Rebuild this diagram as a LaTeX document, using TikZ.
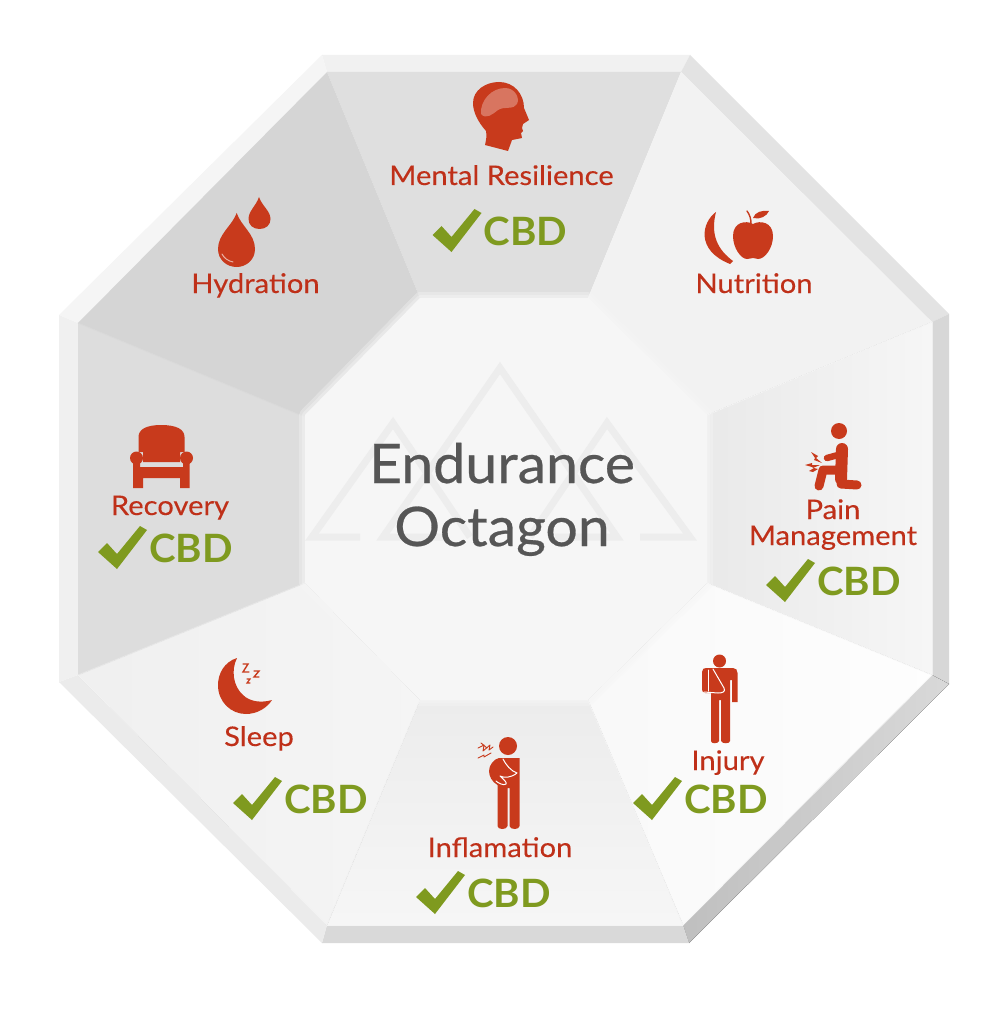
\documentclass[tikz,border=0pt]{standalone}
\usepackage{fontspec}
\setmainfont{Lato}
\newfontfamily\cbdfont[FakeStretch=1.03]{Lato Bold}
\newfontfamily\lblfont[FakeStretch=1.08,FakeBold=0.25]{Lato}
\newfontfamily\ttlfont[FakeStretch=1.05,FakeBold=0.5]{Lato}
\definecolor{iconred}{HTML}{C83A1C}
\definecolor{labelred}{HTML}{BF3019}
\definecolor{chkgreen}{HTML}{7F9A1F}
\definecolor{titlegrey}{HTML}{565656}
\definecolor{markgrey}{HTML}{EDEDED}
\tikzset{
  iconfill/.style={fill=iconred,draw=none},
  iconline/.style={draw=iconred,line cap=round,line join=round},
  gapline/.style={line cap=round,line join=round},
  lbl/.style={text=labelred,font=\lblfont\fontsize{27}{27}\selectfont,anchor=base,inner sep=0pt},
  ttl/.style={text=titlegrey,font=\ttlfont\fontsize{54.5}{54.5}\selectfont,anchor=base,inner sep=0pt},
  cbdtxt/.style={text=chkgreen,font=\cbdfont\fontsize{39}{39}\selectfont,anchor=base west,inner sep=0pt},
  markline/.style={draw=markgrey,line width=7pt,line join=miter},
  seam/.style={line width=.9pt,line cap=round},
}
\newcommand{\cbdmark}[3]{%
  \begin{scope}[shift={(#2,#3)}]
    \fill[chkgreen] (0,0) -- (9,-9) -- (19,2) -- (42,-26) -- (49,-22) -- (19,17) -- cycle;
    \node[cbdtxt] (#1) at (51,10) {CBD};
  \end{scope}}
\begin{document}
\begin{tikzpicture}[x=1pt,y=-1pt]
\useasboundingbox (0,0) rectangle (1000,1032);
\fill[white] (0,0) rectangle (1000,1032);
% bevels
\fill[gray!11] (322,55) -- (690,55) -- (681,72) -- (327,72) -- cycle;
\fill[gray!22] (690,55) -- (949,314) -- (932,322) -- (681,72) -- cycle;
\fill[gray!31] (949,314) -- (949,684) -- (932,675) -- (932,322) -- cycle;
\fill[left color=gray!50,right color=gray!30] (949,684) -- (689,943) -- (683,925) -- (932,675) -- cycle;
\fill[gray!30] (689,943) -- (322,943) -- (327,925) -- (683,925) -- cycle;
\fill[gray!16] (322,943) -- (59,682) -- (78,675) -- (327,925) -- cycle;
\fill[gray!12] (59,682) -- (59,315) -- (78,323) -- (78,675) -- cycle;
\fill[gray!8] (59,315) -- (322,55) -- (327,72) -- (78,323) -- cycle;
% wedges
\fill[gray!25] (327,72) -- (681,72) -- (588,298) -- (420,298) -- cycle;
\fill[gray!33] (327,72) -- (78,323) -- (305,417) -- (420,298) -- cycle;
\fill[gray!10] (681,72) -- (932,322) -- (707,415) -- (588,298) -- cycle;
\fill[left color=gray!17,right color=gray!7] (932,322) -- (932,675) -- (707,583) -- (707,415) -- cycle;
\fill[left color=gray!5,right color=gray!1] (932,675) -- (683,925) -- (588,700) -- (707,583) -- cycle;
\fill[top color=gray!15,bottom color=gray!7] (683,925) -- (327,925) -- (420,700) -- (588,700) -- cycle;
\fill[left color=gray!12,right color=gray!8] (327,925) -- (78,675) -- (305,583) -- (420,700) -- cycle;
\fill[gray!27] (78,675) -- (78,323) -- (305,417) -- (305,583) -- cycle;
% soft seams between wedges
\draw[seam,gray!30] (78,323) -- (305,417);
\draw[seam,gray!19] (78,675) -- (305,583);
\draw[seam,gray!11] (327,925) -- (420,700);
\draw[seam,gray!9] (683,925) -- (588,700);
\draw[seam,gray!6] (932,675) -- (707,583);
\draw[seam,gray!9] (932,322) -- (707,415);
\draw[seam,gray!7] (683,925) -- (932,675);
\draw[seam,gray!9] (327,925) -- (683,925);
\draw[seam,gray!10] (327,925) -- (78,675);
\draw[seam,gray!13] (932,322) -- (932,675);
% centre
\fill[gray!7] (420,298) -- (588,298) -- (707,415) -- (707,583) -- (588,700) -- (420,700) -- (305,583) -- (305,415) -- cycle;
\draw[gray!7,opacity=.35,line width=12pt,line join=round] (420,298) -- (588,298) -- (707,415) -- (707,583) -- (588,700) -- (420,700) -- (305,583) -- (305,415) -- cycle;
\draw[gray!7,opacity=.4,line width=6pt,line join=round] (420,298) -- (588,298) -- (707,415) -- (707,583) -- (588,700) -- (420,700) -- (305,583) -- (305,415) -- cycle;
% watermark
\draw[markline] (360,537) -- (312,537) -- (393,423) -- (470,537);
\draw[markline] (640,537) -- (690,537) -- (607,423) -- (530,537);
\draw[markline] (445,537) -- (383,537) -- (500,368) -- (617,537) -- (555,537);
% title
\node[ttl] (endurance) at (502,483) {Endurance};
\node[ttl] (octagon) at (502,546) {Octagon};
% labels
\node[lbl] (mental) at (501.5,185) {Mental Resilience};
\node[lbl] (hydration) at (255.5,293) {Hydration};
\node[lbl] (nutrition) at (754,293) {Nutrition};
\node[lbl] (pain) at (833,519) {Pain};
\node[lbl] (management) at (833,545) {Management};
\node[lbl] (injury) at (728,770) {Injury};
\node[lbl] (inflamation) at (500,857) {Inflamation};
\node[lbl] (recovery) at (170,515) {Recovery};
\node[lbl] (sleep) at (259,746) {Sleep};
% CBD marks
\cbdmark{cbdmental}{432.5}{235}
\cbdmark{cbdpain}{766}{585}
\cbdmark{cbdinjury}{633}{803}
\cbdmark{cbdinfl}{416}{897}
\cbdmark{cbdrecovery}{98}{552}
\cbdmark{cbdsleep}{233}{803}
% head
\fill[iconred] (485,145) .. controls (486,140) and (487,136) .. (486,131) .. controls (478,122) and (473,112) .. (473,103) .. controls (473,90) and (486,82) .. (499,82) .. controls (514,82) and (524,94) .. (524,108) -- (529,120) -- (523,124) -- (522,128) -- (523,131) -- (521,133) -- (522,138) -- (512,140) -- (508,151) -- cycle;
\fill[white,opacity=.3] (481,114) .. controls (480,100) and (492,88) .. (505,88) .. controls (515,88) and (520,98) .. (517,104) .. controls (514,110) and (504,106) .. (498,110) .. controls (493,114) and (486,120) .. (481,114) -- cycle;
% drops
\fill[iconred] (236.7,213) .. controls (232,226) and (218,234) .. (218,249) .. controls (218,260) and (227,267) .. (236.7,267) .. controls (246,267) and (255,260) .. (255,249) .. controls (255,234) and (241,226) .. (236.7,213) -- cycle;
\draw[white,opacity=.6,line width=1pt,line cap=round] (222,254) .. controls (224,258) and (228,261) .. (233,262);
\fill[iconred] (259,197) .. controls (256,206) and (248.5,211) .. (248.5,219) .. controls (248.5,225) and (253,229) .. (259.5,229) .. controls (266,229) and (270.5,225) .. (270.5,219) .. controls (270.5,211) and (262,206) .. (259,197) -- cycle;
% banana and apple
\fill[iconred] (716,212) .. controls (702,222) and (695,250) .. (730,264) -- (733,261) .. controls (718,250) and (710,235) .. (716,212) -- cycle;
\fill[iconred] (753,224) .. controls (760,220) and (773,222) .. (773,236) .. controls (773,248) and (765,259) .. (758,259) .. controls (755,259) and (755,258) .. (753,258) .. controls (751,258) and (750,259) .. (747,259) .. controls (741,259) and (733,248) .. (733,236) .. controls (733,222) and (746,220) .. (753,224) -- cycle;
\draw[iconline,line width=1.4pt] (751,224) .. controls (751,219) and (750,215) .. (747,211);
\fill[iconred] (753,218) .. controls (755,212) and (762,210) .. (769,211) .. controls (767,216) and (760,220) .. (753,218) -- cycle;
% pain figure
\fill[iconred] (839,431) circle (8);
\draw[iconline,line width=12pt] (842,449) -- (841,479);
\draw[iconline,line width=9pt] (841,484) -- (857,485);
\draw[iconline,line width=9pt] (838,470) -- (823,470) -- (819,486);
\draw[iconline,line width=6.5pt] (838,455) -- (827,458);
\fill[iconred] (811,452) -- (818,456) -- (816,458) -- (822,463) -- (814,460) -- (815,458) -- cycle;
\fill[iconred] (805,465) -- (812,463) -- (812,465) -- (820,465) -- (813,468) -- (812,467) -- cycle;
\fill[iconred] (809,471) -- (814,468) -- (818,469) -- (813,472) -- cycle;
% injury figure
\fill[iconred] (719.5,661) circle (6.5);
\fill[iconred] (706,668) -- (733,668) .. controls (736,668) and (737.5,670) .. (737.5,673) -- (737.5,702) -- (732,702) -- (732,680) -- (730,680) -- (730,741) .. controls (730,744) and (722,744) .. (721,741) -- (721,700) -- (719,700) -- (719,741) .. controls (718,744) and (711,744) .. (711,741) -- (711,693) -- (705,693) .. controls (702,693) and (702,690) .. (702,688) -- (702,672) .. controls (702,669) and (704,668) .. (706,668) -- cycle;
\draw[white,gapline,line width=1pt] (713,669) -- (724,688) .. controls (726,692) and (722,693) .. (718,693) -- (704,692);
\draw[white,gapline,line width=1pt] (708,670) -- (708,691);
% inflammation figure
\fill[iconred] (508,746) circle (9);
\fill[iconred] (499,758) -- (519.5,758) -- (519.5,826) .. controls (519.5,830) and (510,830) .. (509.5,826) -- (509.5,788) -- (507.5,788) -- (507.5,826) .. controls (507,830) and (497.5,830) .. (497.5,826) -- (497.5,785) .. controls (492,782) and (489,776) .. (489,771) .. controls (489,765) and (494,759) .. (499,758) -- cycle;
\draw[white,gapline,line width=1pt] (503,759) .. controls (506,765) and (511,771) .. (517,773) .. controls (511,778) and (504,778) .. (500,776) .. controls (504,780) and (507,782) .. (506,784) .. controls (504,786) and (498,783) .. (496,781);
\draw[iconline,line width=.9pt] (478,748) -- (484,745) -- (483,751) -- (490,745) -- (489,750) -- (493,747);
\draw[iconline,line width=.9pt] (478,758) -- (484,755) -- (484,757) -- (491,753);
\draw[iconline,line width=.9pt] (481,743) -- (487,748);
% armchair
\fill[iconred] (138.5,452) -- (138.5,437) .. controls (138.5,429) and (147,425) .. (161,425) .. controls (176,425) and (184.5,429) .. (184.5,437) -- (184.5,452) -- (180,452) -- (180,462) -- (143,462) -- (143,452) -- cycle;
\fill[iconred] (136.5,458) circle (6.5);
\fill[iconred] (186.5,458) circle (6.5);
\fill[iconred] (133,462) -- (140,462) -- (140,467) -- (183,467) -- (183,462) -- (189.5,462) -- (189.5,488) -- (180,488) -- (180,478) -- (143,478) -- (143,488) -- (133,488) -- cycle;
% moon
\fill[iconred] (237,658) .. controls (224,662) and (218,674) .. (218,685) .. controls (218,702) and (231,714) .. (246,714) .. controls (257,714) and (267,708) .. (272,700) .. controls (262,703) and (250,702) .. (243,695) .. controls (233,686) and (231,670) .. (237,658) -- cycle;
\draw[iconline,line width=1.4pt,line join=miter] (243,664) -- (248,664) -- (243,672) -- (249,672);
\draw[iconline,line width=1.4pt,line join=miter] (254,671) -- (259,671) -- (254,677) -- (259,677);
\draw[iconline,line width=1.2pt,line join=miter] (247,679) -- (250,679) -- (247,683) -- (250,683);
\end{tikzpicture}
\end{document}
